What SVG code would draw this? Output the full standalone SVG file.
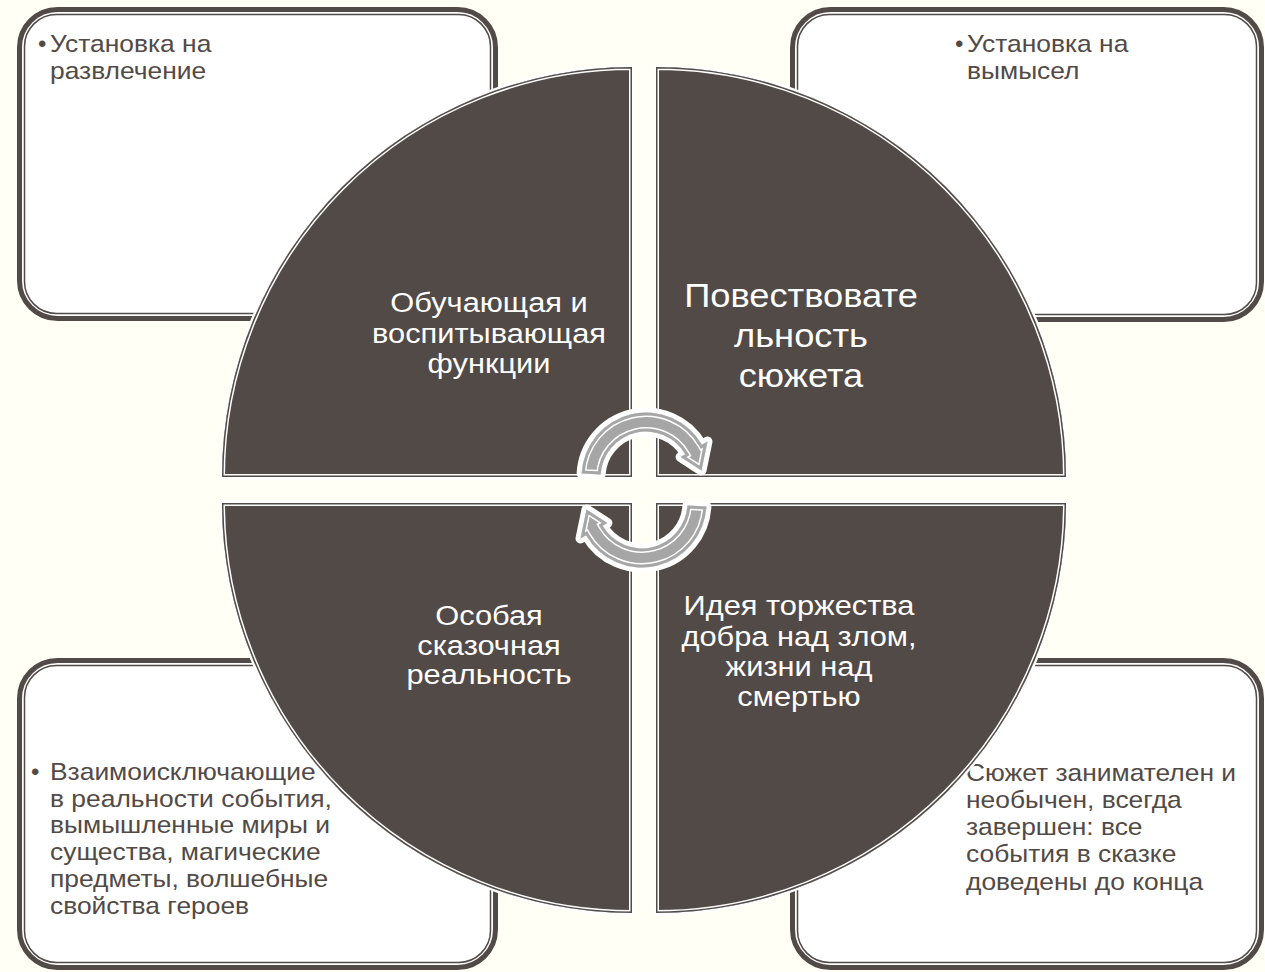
<svg xmlns="http://www.w3.org/2000/svg" width="1265" height="972" viewBox="0 0 1265 972">
<defs>
<style>
.box-outer{fill:#ffffff;stroke:#524A46;stroke-width:5}
.box-inner{fill:none;stroke:#524A46;stroke-width:1.5}
.btxt{font-family:"Liberation Sans",Arial,sans-serif;font-size:24px;fill:#524A46}
.q{fill:#524A46;stroke:#ffffff;stroke-width:5;paint-order:stroke}
.qw{fill:none;stroke:#ffffff;stroke-width:6}
.qd{fill:none;stroke:#524A46;stroke-width:3}
.qtxt{font-family:"Liberation Sans",Arial,sans-serif;font-size:28px;fill:#ffffff;text-anchor:middle}
.big{font-size:33px}
.arr{fill:#A6A6A6;stroke:#ffffff;stroke-width:10;stroke-linejoin:round;paint-order:stroke}
.aw{fill:none;stroke:#ffffff;stroke-width:9}
.ag{fill:none;stroke:#A6A6A6;stroke-width:6}
</style>
<path id="pTL" d="M632,477 H222 A410,410 0 0 1 632,67 Z"/>
<path id="pTR" d="M656,477 V67 A410,410 0 0 1 1066,477 Z"/>
<path id="pBR" d="M656,503 H1066 A410,410 0 0 1 656,913 Z"/>
<path id="pBL" d="M632,503 V913 A410,410 0 0 1 222,503 Z"/>
<path id="pArr" d="M581.6,473.6 A64.5,64.5 0 0 1 701.9,444.8 L707.5,441.5 L701.5,470.5 L680.6,457 L685.4,454.25 A45.5,45.5 0 0 0 600.6,474.6 Z"/>
<clipPath id="cTL"><use href="#pTL"/></clipPath>
<clipPath id="cTR"><use href="#pTR"/></clipPath>
<clipPath id="cBR"><use href="#pBR"/></clipPath>
<clipPath id="cBL"><use href="#pBL"/></clipPath>
<clipPath id="cArr"><use href="#pArr"/></clipPath>
</defs>
<rect x="0" y="0" width="1265" height="972" fill="#FFFFF5"/>

<g id="box-tl">
<rect class="box-outer" x="19.5" y="9.5" width="476" height="309" rx="38"/>
<rect class="box-inner" x="24.5" y="14.5" width="466" height="299" rx="32"/>
<text class="btxt" x="38" y="52">•</text>
<g transform="translate(50 0) scale(1.1 1)">
<text class="btxt" x="0" y="52">Установка на</text>
<text class="btxt" x="0" y="79">развлечение</text>
</g>
</g>
<g id="box-tr">
<rect class="box-outer" x="792.5" y="9.5" width="469" height="310" rx="38"/>
<rect class="box-inner" x="797.5" y="14.5" width="459" height="300" rx="32"/>
<text class="btxt" x="955" y="52">•</text>
<g transform="translate(967 0) scale(1.1 1)">
<text class="btxt" x="0" y="52">Установка на</text>
<text class="btxt" x="0" y="79">вымысел</text>
</g>
</g>
<g id="box-bl">
<rect class="box-outer" x="19.5" y="660.5" width="476" height="307" rx="38"/>
<rect class="box-inner" x="24.5" y="665.5" width="466" height="297" rx="32"/>
<text class="btxt" x="31" y="780">•</text>
<g transform="translate(50 0) scale(1.1 1)">
<text class="btxt" x="0" y="780">Взаимоисключающие</text>
<text class="btxt" x="0" y="807">в реальности события,</text>
<text class="btxt" x="0" y="833">вымышленные миры и</text>
<text class="btxt" x="0" y="860">существа, магические</text>
<text class="btxt" x="0" y="887">предметы, волшебные</text>
<text class="btxt" x="0" y="914">свойства героев</text>
</g>
</g>
<g id="box-br">
<rect class="box-outer" x="792.5" y="660.5" width="469" height="307" rx="38"/>
<rect class="box-inner" x="797.5" y="665.5" width="459" height="297" rx="32"/>
<g transform="translate(966 0) scale(1.1 1)">
<text class="btxt" x="0" y="781">Сюжет занимателен и</text>
<text class="btxt" x="0" y="808">необычен, всегда</text>
<text class="btxt" x="0" y="835">завершен: все</text>
<text class="btxt" x="0" y="862">события в сказке</text>
<text class="btxt" x="0" y="890">доведены до конца</text>
</g>
</g>

<g id="q-tl">
<use href="#pTL" class="q"/>
<g clip-path="url(#cTL)"><use href="#pTL" class="qw"/><use href="#pTL" class="qd"/></g>
<g transform="translate(489 0) scale(1.1 1)">
<text class="qtxt" x="0" y="312">Обучающая и</text>
<text class="qtxt" x="0" y="343">воспитывающая</text>
<text class="qtxt" x="0" y="373">функции</text>
</g>
</g>
<g id="q-tr">
<use href="#pTR" class="q"/>
<g clip-path="url(#cTR)"><use href="#pTR" class="qw"/><use href="#pTR" class="qd"/></g>
<g transform="translate(801 0) scale(1.1 1)">
<text class="qtxt big" x="0" y="307">Повествовате</text>
<text class="qtxt big" x="0" y="347">льность</text>
<text class="qtxt big" x="0" y="387">сюжета</text>
</g>
</g>
<g id="q-bl">
<use href="#pBL" class="q"/>
<g clip-path="url(#cBL)"><use href="#pBL" class="qw"/><use href="#pBL" class="qd"/></g>
<g transform="translate(489 0) scale(1.1 1)">
<text class="qtxt" x="0" y="625">Особая</text>
<text class="qtxt" x="0" y="655">сказочная</text>
<text class="qtxt" x="0" y="684">реальность</text>
</g>
</g>
<g id="q-br">
<use href="#pBR" class="q"/>
<g clip-path="url(#cBR)"><use href="#pBR" class="qw"/><use href="#pBR" class="qd"/></g>
<g transform="translate(799 0) scale(1.1 1)">
<text class="qtxt" x="0" y="615">Идея торжества</text>
<text class="qtxt" x="0" y="646">добра над злом,</text>
<text class="qtxt" x="0" y="676">жизни над</text>
<text class="qtxt" x="0" y="706">смертью</text>
</g>
</g>

<g id="connectors">
<g id="arrow-top">
<use href="#pArr" class="arr"/>
<g clip-path="url(#cArr)"><use href="#pArr" class="aw"/><use href="#pArr" class="ag"/></g>
</g>
<g id="arrow-bottom" transform="rotate(180 644 490)">
<use href="#pArr" class="arr"/>
<g clip-path="url(#cArr)"><use href="#pArr" class="aw"/><use href="#pArr" class="ag"/></g>
</g>
</g>
</svg>
